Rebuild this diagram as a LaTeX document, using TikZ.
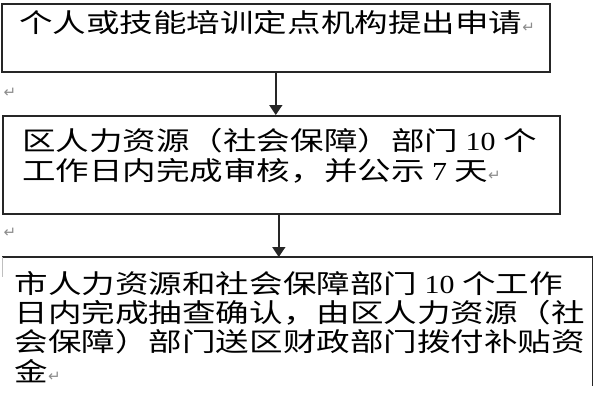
\documentclass[tikz,border=0pt]{standalone}
\usepackage{fontspec}
\setmainfont{Noto Sans CJK SC}[FakeStretch=1.29]
\newfontfamily\symfont{DejaVu Sans}
\newfontfamily\numfont{Liberation Serif}[FakeStretch=1.15]
\usetikzlibrary{arrows.meta}
\newcommand\retmark{{\symfont\fontsize{15}{15}\selectfont\textcolor{black!45}{↵}}}
\newcommand\dg[1]{{\numfont #1}}
\begin{document}
\begin{tikzpicture}[x=1pt,y=-1pt,
  boxline/.style={draw=black!85,line width=1.6pt},
  txt/.style={anchor=base west,inner sep=0pt,font=\fontsize{26}{29.4}\selectfont},
  arr/.style={draw=black!85,line width=1.6pt,-{Triangle[width=13pt,length=10pt]}},
  retnode/.style={anchor=center,inner sep=0pt}]
\useasboundingbox (0,0) rectangle (600,400);
% boxes
\node[boxline,anchor=north west,minimum width=548pt,minimum height=68pt,inner sep=0pt] (b1) at (1,3) {};
\node[boxline,anchor=north west,minimum width=557pt,minimum height=98pt,inner sep=0pt] (b2) at (2,115) {};
\node[anchor=north west,minimum width=590pt,minimum height=129pt,inner sep=0pt] (b3) at (2,257) {};
\draw[draw=black!85,line width=1.6pt] (b3.north west) -- (b3.north east) -- (b3.south east);
\draw[draw=black!25,line width=1pt] (b3.north west) -- ([yshift=-20pt]b3.north west);
% texts
\node[txt] (t1) at (19,32.5) {个人或技能培训定点机构提出申请\retmark};
\node[txt] (t2a) at (22,150) {区人力资源（社会保障）部门 \dg{10} 个};
\node[txt] (t2b) at (22,180) {工作日内完成审核，并公示 \dg{7} 天\retmark};
\node[txt] (t3a) at (14.5,293) {市人力资源和社会保障部门 \dg{10} 个工作};
\node[txt] (t3b) at (14.5,322.5) {日内完成抽查确认，由区人力资源（社};
\node[txt] (t3c) at (14.5,351.5) {会保障）部门送区财政部门拨付补贴资};
\node[txt] (t3d) at (14.5,381) {金\retmark};
% stray paragraph marks
\node[retnode] (r1) at (10,93) {\retmark};
\node[retnode] (r2) at (10,233) {\retmark};
% arrows
\draw[arr] (b1.south) -- (b1.south |- b2.north);
\draw[arr] ([xshift=-2.5pt]b2.south) -- ([xshift=-2.5pt]b2.south |- b3.north);
\end{tikzpicture}
\end{document}
